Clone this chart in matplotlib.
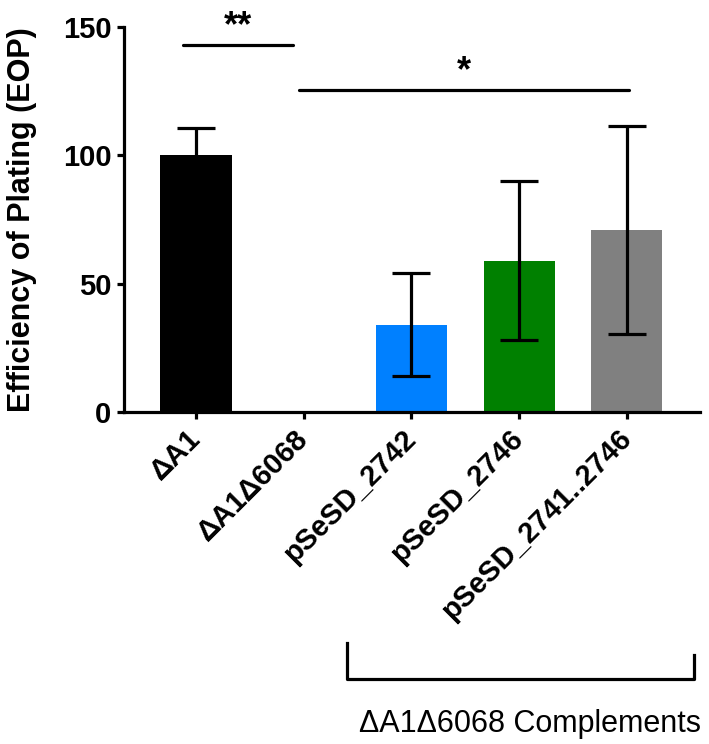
import matplotlib
matplotlib.use('Agg')
import matplotlib.pyplot as plt
import matplotlib.transforms as mtransforms
import numpy as np

plt.rcParams['font.family'] = ['Liberation Sans', 'DejaVu Sans']

# data
strains = ['ΔA1', 'ΔA1Δ6068', 'pSeSD_2742', 'pSeSD_2746', 'pSeSD_2741..2746']
eop = [100, 0, 34, 59, 71]
eop_err = [10.5, 0, 20, 31, 40.5]
bar_colors = ['#000000', '#000000', '#0080ff', '#008000', '#808080']

# significance annotations: (x start, x end, y, label)
sig_pairs = [(-0.12, 0.90, 143, '**'), (0.96, 4.02, 125.5, '*')]
group_label = 'ΔA1Δ6068 Complements'

lw = 2.3

fig = plt.figure(figsize=(7.09, 7.44), dpi=100)
ax = fig.add_axes([0.175, 0.4462, 0.812, 0.5175])

x = np.arange(len(strains))
ax.bar(x, eop, width=0.66, color=bar_colors, zorder=2)
err = np.array(eop_err, dtype=float)
mask = err > 0
ax.errorbar(x[mask], np.array(eop)[mask], yerr=err[mask], fmt='none',
            ecolor='black', elinewidth=lw, capsize=14, capthick=lw, zorder=3)

ax.set_xlim(-0.668, 4.677)
ax.set_ylim(0, 150)
ax.set_yticks([0, 50, 100, 150])

for s in ['top', 'right']:
    ax.spines[s].set_visible(False)
for s in ['left', 'bottom']:
    ax.spines[s].set_linewidth(lw)

ax.tick_params(axis='both', width=lw, length=5, labelsize=21, pad=4)
for t in ax.get_yticklabels():
    t.set_fontweight('bold')

ax.set_xticks(x)
ax.set_xticklabels(strains, rotation=45, ha='right', va='center',
                   rotation_mode='anchor', fontweight='bold', fontsize=21)
ax.tick_params(axis='x', pad=11)

ax.set_ylabel('Efficiency of Plating (EOP)', fontsize=22, fontweight='bold', labelpad=19)

# significance bars
for x0, x1, y, lab in sig_pairs:
    ax.plot([x0, x1], [y, y], color='black', lw=lw, solid_capstyle='round', clip_on=False)
    ax.text((x0 + x1) / 2, y + 3.5, lab, ha='center', va='baseline',
            fontsize=26, fontweight='bold', clip_on=False)

# bracket for the complement group
trans = mtransforms.blended_transform_factory(ax.transData, ax.transAxes)
ax.plot([1.40, 1.40, 4.62, 4.62], [-0.60, -0.6935, -0.6935, -0.631],
        color='black', lw=lw, transform=trans, clip_on=False)
ax.text(3.10, -0.831, group_label, ha='center', va='baseline',
        fontsize=22, transform=trans)

fig.savefig('out.png', dpi=100)
